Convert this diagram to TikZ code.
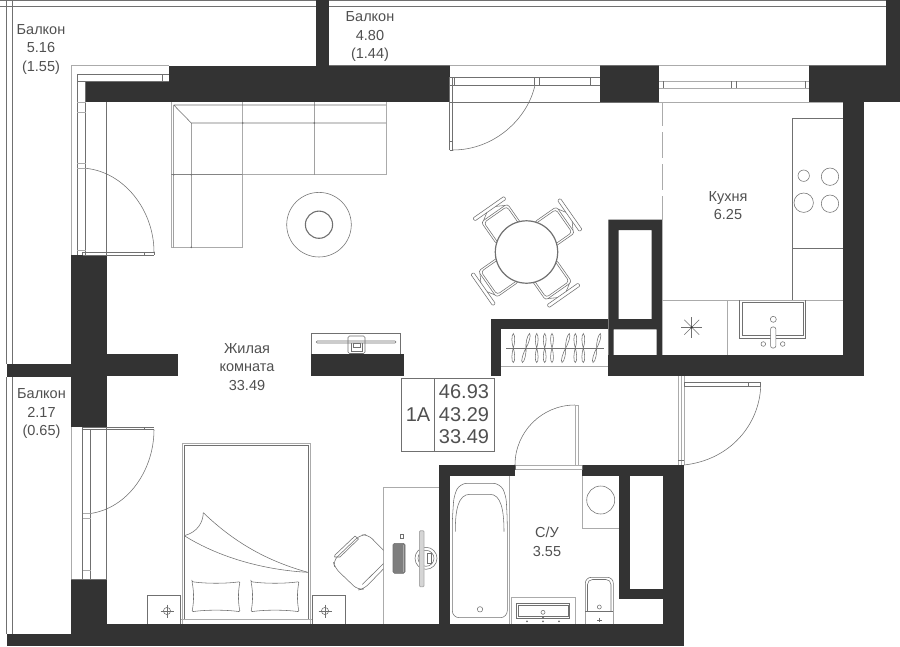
\documentclass[tikz,border=0pt]{standalone}
\usepackage{fontspec}
\setmainfont{Liberation Sans}
\definecolor{wallc}{HTML}{333333}
\definecolor{linec}{HTML}{707070}
\definecolor{lightc}{HTML}{ABABAB}
\definecolor{textc}{HTML}{505050}
\tikzset{
  wall/.style={fill=wallc,draw=none},
  thin line/.style={draw=linec,line width=0.55pt},
  light line/.style={draw=lightc,line width=0.8pt},
  room label/.style={text=textc,font=\fontsize{14.5}{18.5}\selectfont,align=center,inner sep=0pt},
  info label/.style={text=textc,font=\fontsize{20}{22.5}\selectfont,align=center,inner sep=0pt},
}
\newcommand{\chairshape}[1]{%
  \begin{scope}[shift={(526.5,252)},rotate=#1,shift={(-4,0)}]
    \draw[thin line,rounded corners=3pt] (-15,-23) -- (-16,-24) -- (-16,-50.5) -- (16,-50.5) -- (16,-24) -- (15,-23);
    \draw[thin line,rounded corners=3pt] (-14,-25) -- (-14,-48.5) -- (14,-48.5) -- (14,-25);
    \draw[thin line,rounded corners=1pt] (-20.5,-55) rectangle (17.5,-58.5);
    \draw[thin line] (-13,-50.5) -- (-6,-55) (13,-50.5) -- (5,-55);
  \end{scope}}
\newcommand{\hanger}[3]{%
  \draw[thin line,shift={(#1,#2)},xslant=#3] (0,-14.5) .. controls (2.2,-13) and (1.5,-4) .. (0,0) .. controls (1.5,4) and (2.2,14) .. (0,14.5) .. controls (-2.2,14) and (-1.5,4) .. (0,0) .. controls (-1.5,-4) and (-2.2,-13) .. (0,-14.5) -- cycle;}
\newcommand{\pillow}[1]{%
  \draw[thin line,shift={(#1,596.7)},rounded corners=1pt] (-24,-15) .. controls (-10,-13) and (10,-13) .. (24,-15) .. controls (22,-5) and (22,5) .. (24,15) .. controls (10,13) and (-10,13) .. (-24,15) .. controls (-22,5) and (-22,-5) .. (-24,-15) -- cycle;}
\newcommand{\lampmark}[1]{%
  \draw[thin line] (#1,611) circle (3.6);
  \draw[thin line] (#1-6.5,611) -- (#1+6.5,611) (#1,604.5) -- (#1,617.5);}
\begin{document}
\begin{tikzpicture}[x=1pt,y=-1pt]
\useasboundingbox (0,0) rectangle (900,646);
\fill[white] (0,0) rectangle (900,646);

% balcony outlines
\draw[thin line] (0,0.7) -- (316,0.7) (0,6.5) -- (316,6.5);
\draw[thin line] (6.3,0) -- (6.3,364) (12.3,0) -- (12.3,364);
\draw[thin line] (6.3,377) -- (6.3,634) (12.3,377) -- (12.3,634);
\draw[thin line] (329,0.7) -- (886,0.7) (329,6.5) -- (886,6.5);
\draw[thin line] (329,65.7) -- (886,65.7);

% walls
\fill[wall] (316,0) rectangle (329.3,66);
\fill[wall] (886,0) rectangle (900,66);
\fill[wall] (169,65.7) rectangle (450,102);
\fill[wall] (85.7,81) rectangle (450,102);
\fill[wall] (600,65.7) rectangle (659,102);
\fill[wall] (809,65.7) rectangle (900,102);
\fill[wall] (842.7,102) rectangle (863.7,376);
\fill[wall] (608.3,355) rectangle (863.7,376);
% shaft
\fill[wall,even odd rule] (608.3,219.7) rectangle (662.3,355) (618.7,230) rectangle (651.7,319) (613.7,329.3) rectangle (656.7,355);
\fill[wall] (491,319) rectangle (608.3,329.3);
\fill[wall] (491,319) rectangle (501.3,376);
% living walls
\fill[wall] (71,255) rectangle (106.7,427);
\fill[wall] (106.7,354.3) rectangle (178,376);
\fill[wall] (6.5,364) rectangle (71,377);
\fill[wall] (311.3,354) rectangle (404,376);
\fill[wall] (71,579) rectangle (106.7,646);
\fill[wall] (6.5,633.6) rectangle (71,646);
\fill[wall] (71,624) rectangle (684,646);
% bathroom
\fill[wall] (439.3,465.3) rectangle (515,476.3);
\fill[wall] (439.3,465.3) rectangle (449.7,624);
\fill[wall] (582,465.3) rectangle (684,476.3);
\fill[wall] (662.7,465.3) rectangle (684,646);
\fill[wall] (619,476) rectangle (629.7,599);
\fill[wall] (619,588.7) rectangle (663,599);

% upper left window and door
\draw[light line] (71,255) -- (71,65.7) -- (169,65.7);
\draw[thin line] (77.3,255) -- (77.3,74.3) -- (169,74.3);
\draw[thin line] (85.7,81) -- (85.7,255) (162.5,74.3) -- (162.5,81);
\draw[thin line] (77.3,81) -- (169,81);
\draw[light line] (77.3,102) -- (85.7,102) (77.3,112) -- (85.7,112) (77.3,163.5) -- (85.7,163.5) (77.3,168.3) -- (85.7,168.3) (77.3,250) -- (85.7,250);
\draw[thin line] (106.7,102) -- (106.7,255);
\draw[thin line] (82.5,252.2) -- (154,252.2) (82.5,255) -- (154,255) (82.5,252.2) -- (82.5,255) (144.5,252.2) -- (144.5,255) (154,252.2) -- (154,255);
\draw[thin line] (85.7,168.3) .. controls (124,172) and (154,210) .. (154,252.2);

% lower left window and door
\draw[light line] (71,427) -- (71,579);
\draw[thin line] (106.7,427) -- (106.7,579);
\draw[thin line] (82.5,427) -- (82.5,579) (90.5,430) -- (90.5,579);
\draw[thin line] (82.5,427) -- (154,427) (82.5,429.5) -- (154,429.5) (144.5,427) -- (144.5,429.5);
\draw[light line] (82.5,513.3) -- (90.5,513.3) (82.5,518.5) -- (90.5,518.5) (82.5,570) -- (90.5,570);
\draw[thin line] (154,429.5) .. controls (154,470) and (128,508) .. (90.5,513.5);
\draw[thin line] (71,579) -- (106.7,579);

% top door and window
\draw[light line] (450,65.7) -- (600,65.7);
\draw[thin line] (450,77.4) -- (600,77.4) (450,85) -- (600,85) (450,102) -- (659,102);
\draw[thin line] (454.7,77.4) -- (454.7,85) (534.3,77.4) -- (534.3,85) (539.7,77.4) -- (539.7,85) (590.3,77.4) -- (590.3,85);
\draw[thin line] (449.7,77.4) -- (449.7,150) (452.7,77.4) -- (452.7,150) (449.7,150) -- (452.7,150) (449.7,141) -- (452.7,141);
\draw[thin line] (535,85) .. controls (528,118) and (495,150) .. (452.7,150);

% kitchen window
\draw[light line] (659,65.7) -- (809,65.7) (659,102) -- (843,102);
\draw[light line] (659,81) -- (809,81) (659,88) -- (809,88);
\draw[thin line] (663,81) -- (663,88) (731,81) -- (731,88) (736,81) -- (736,88) (805,81) -- (805,88);

% kitchen dashed division
\draw[lightc,line width=0.8pt] (662.3,102) -- (662.3,126) (662.3,132) -- (662.3,158) (662.3,164) -- (662.3,190) (662.3,196) -- (662.3,219.7);

% kitchen furniture
\draw[thin line] (842.7,118.3) -- (792.3,118.3) -- (792.3,300) (792.3,248) -- (842.7,248);
\draw[light line] (662.3,300) -- (842.7,300);
\draw[light line] (727,300) -- (727,355);
\draw[thin line] (803.7,175.7) circle (5.7) (830,176.7) circle (8.7) (803.7,202.7) circle (9.7) (830,203.7) circle (8.7);
\draw[thin line] (739.3,300) -- (739.3,338.7) -- (805.7,338.7) -- (805.7,300);
\draw[thin line] (741.8,302.7) rectangle (803.3,335.7);
\draw[thin line,rounded corners=2pt,fill=white] (770.6,327) rectangle (775.8,348);
\draw[thin line] (773.3,319.3) circle (3) (763.3,344) circle (2.3) (782.7,344) circle (2.3);
\foreach \a in {0,45,...,315} {\draw[thin line] (691.7,327.3) -- ++(\a:10.5);}
\fill[wallc] (691.7,327.3) circle (1.2);

% closet
\draw[light line] (501.3,366) -- (608.3,366);
\draw[thin line] (506,348.3) -- (604.3,348.3);
\foreach \x/\s in {513.3/0,526/0.25,536.7/0,544.7/0,552/0,565.7/0.25,575.3/0,583.3/0,596.7/0.25} {\hanger{\x}{348}{\s}}

% sofa
\draw[light line] (386,102) -- (386,174.7) -- (171,174.7);
\draw[light line] (171,102) -- (171,247.3) -- (242.7,247.3) -- (242.7,102);
\draw[thin line] (173.7,105) -- (386,105) (173.7,105) -- (173.7,247.3) (173.7,105) -- (191.3,123) (191.3,123) -- (386,123) (191.3,123) -- (191.3,247.3) (314.3,102) -- (314.3,174.7) (171,174.7) -- (242.7,174.7);
\foreach \p in {(242.7,123),(314.3,123),(191.3,174.7),(173.7,174.7),(191.3,247.3)} {\fill[linec] \p circle (0.9);}

% rug
\draw[thin line] (319,224.7) circle (32.3);
\draw[linec,line width=1.1pt] (319,224.7) circle (13.6);

% table and chairs
\chairshape{35}\chairshape{-55}\chairshape{-145}\chairshape{125}
\draw[linec,line width=1.2pt,fill=white] (526.5,252) circle (31.2);

% TV
\draw[thin line] (311.3,354) -- (311.3,333.3) -- (400.7,333.3) -- (400.7,354);
\draw[thin line,rounded corners=1pt] (316.3,341) rectangle (396,343);
\draw[thin line,rounded corners=1.5pt] (348,336) rectangle (365,353.5);
\draw[thin line] (351,343) -- (351,351) -- (362,351) -- (362,343);
\draw[thin line] (353,343) rectangle (360,347);

% info table
\draw[thin line] (401.5,378.3) rectangle (494.7,451.7) (434.3,378.3) -- (434.3,451.7);

% bed
\draw[light line] (182.3,624) -- (182.3,443.3) -- (310.7,443.3) -- (310.7,624);
\draw[thin line] (184.3,620) -- (184.3,445.5) -- (308.7,445.5) -- (308.7,620);
\draw[light line] (180.5,619.7) -- (312,619.7);
\draw[thin line] (184.3,535.7) .. controls (198,532) and (203,522) .. (203.3,512.7);
\draw[thin line] (203.3,512.7) .. controls (240,548) and (275,563) .. (307.7,572.3);
\draw[thin line] (184.3,535.7) .. controls (220,558) and (265,570) .. (307.7,572.3);
\pillow{216}\pillow{275}
\draw[thin line] (147.5,624) -- (147.5,595.7) -- (180.5,595.7) -- (180.5,624);
\draw[thin line] (312,624) -- (312,595.7) -- (345,595.7) -- (345,624);
\lampmark{167}\lampmark{325}

% desk
\draw[light line] (383.3,624) -- (383.3,487.7) -- (439.3,487.7);
\draw[thin line] (426,558.3) circle (11);
\draw[thin line] (426,558.3) circle (8);
\draw[thin line] (427,553) rectangle (431,563);
\draw[light line,fill=lightc!50,rounded corners=1pt] (419.5,530.7) rectangle (424,586.7);
\draw[thin line,fill=linec!90,rounded corners=1.5pt] (393,543.3) rectangle (405,573.3);
\draw[lightc,line width=1pt] (403.5,545) -- (403.5,571.5);
\draw[thin line] (400.5,534) rectangle (403,538);

% desk chair
\begin{scope}
\clip (320,520) rectangle (383.3,600);
\draw[thin line,rounded corners=6pt] (389,556) -- (368,534.5) -- (360,535) -- (333,561) -- (335,568) -- (358,590) -- (364,589) -- (392,560);
\draw[thin line] (335,555) -- (355,536) (340,557) -- (358.5,539);
\draw[thin line] (334.5,557) -- (340,557) (335,555) -- (334.5,557) (355,536) -- (358.5,539);
\draw[thin line] (362.3,584.5) -- (390,557);
\end{scope}

% bathroom fixtures
\draw[light line] (509.5,476.3) -- (509.5,624);
\draw[thin line,rounded corners=7pt] (480,617.7) -- (452.3,617.7) -- (452.3,520) -- (454,495) -- (460,483.3) -- (500,483.3) -- (506,495) -- (507.3,520) -- (507.3,617.7) -- cycle;
\draw[thin line] (455.3,531.7) .. controls (455.3,510) and (458,494.3) .. (470,494.3) -- (490,494.3) .. controls (501,494.3) and (504,510) .. (504,531.7);
\draw[thin line] (480,609.3) circle (2.7);
\draw[light line] (511,624) -- (511,597.3) -- (575,597.3) -- (575,624);
\draw[thin line] (516.3,603.3) rectangle (569.7,618.3);
\draw[thin line] (518,605) rectangle (568,616.5);
\draw[thin line] (543,612.3) circle (2);
\foreach \x in {527,543,559} {\fill[linec] (\x,621.3) circle (1);}
\fill[linec] (543,617.3) circle (1);
\draw[thin line,rounded corners=6pt] (585.3,624) -- (585.3,577.3) -- (613.3,577.3) -- (613.3,624);
\draw[thin line,rounded corners=5pt] (587.5,611) -- (587.5,579.5) -- (611,579.5) -- (611,611);
\draw[thin line] (585.3,611.7) -- (613.3,611.7);
\draw[thin line] (599.3,607) circle (2);
\draw[thin line] (597,620) -- (601.6,620) (599.3,617.7) -- (599.3,622.3);
\draw[light line] (582,476.3) -- (582,528.3) -- (619,528.3);
\draw[thin line] (600.7,500) circle (14);

% door of the bathroom
\draw[light line] (515,465.6) -- (582,465.6) (515,469.5) -- (582,469.5);
\draw[thin line] (515,465.3) -- (515,469.5) (582,465.3) -- (582,469.5);
\draw[light line] (575,405) rectangle (578.5,465.3);
\draw[thin line] (575,405) arc (-90:-180:60);

% entrance door
\draw[light line] (678.3,376) -- (678.3,465.3) (681,376) -- (681,465.3) (684,376) -- (684,465.3);
\draw[thin line] (678.3,460) -- (684,460);
\draw[thin line] (684,382) rectangle (760.7,386.7) (748.7,382) -- (748.7,386.7);
\draw[thin line] (760.7,386.7) .. controls (759,425) and (730,460) .. (684,465);

% labels
\node[room label] (balk1) at (41,49.5) {Балкон\\5.16\\(1.55)};
\node[room label] (balk2) at (370,37) {Балкон\\4.80\\(1.44)};
\node[room label] (balk3) at (41.5,414) {Балкон\\2.17\\(0.65)};
\node[room label] (kitchen) at (728,205.5) {Кухня\\6.25};
\node[room label] (living) at (247,367) {Жилая\\комната\\33.49};
\node[room label] (bath) at (547,542) {С/У\\3.55};
\node[info label] (flat) at (418,414.5) {1A};
\node[info label] (areas) at (464,414.5) {46.93\\43.29\\33.49};
\end{tikzpicture}
\end{document}
